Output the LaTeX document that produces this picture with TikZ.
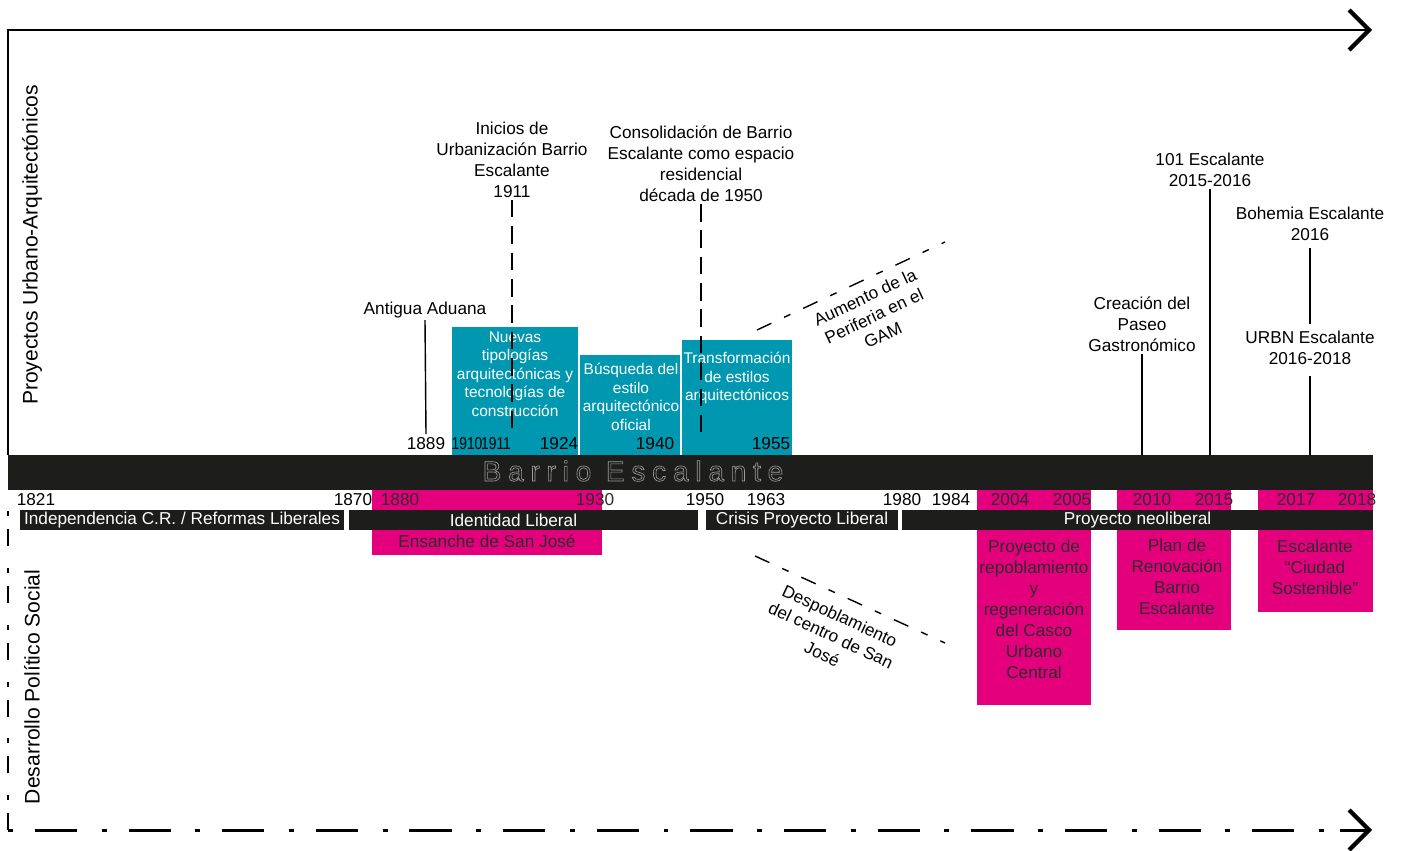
\documentclass[tikz,border=0pt]{standalone}
\usepackage{fontspec}
\setmainfont{Liberation Sans}
\usepackage{tikz}
\usetikzlibrary{positioning,arrows.meta}

\definecolor{tealbx}{RGB}{0,152,176}
\definecolor{magbx}{RGB}{228,0,124}
\definecolor{barblk}{RGB}{29,29,27}
\definecolor{darktxt}{RGB}{45,45,45}

\newcommand{\evfont}{\fontsize{9.8}{11.95}\selectfont}
\newcommand{\bxfont}{\fontsize{8.8}{10.5}\selectfont}
\newcommand{\axfont}{\fontsize{12}{14}\selectfont}
\newcommand{\narrow}[1]{\scalebox{0.8}[1]{#1}}
\newcommand{\outlined}[1]{\special{pdf:literal direct 1 Tr 0.35 w}#1\special{pdf:literal direct 0 Tr}}

\tikzset{
  ev/.style={align=center, inner sep=1pt, font=\evfont},
  yr/.style={inner sep=0pt, font=\evfont},
  yrpk/.style={yr, text=darktxt},
  bxtxt/.style={align=center, inner sep=0pt, font=\bxfont, text=white},
  pktxt/.style={align=center, inner sep=0pt, font=\evfont, text=darktxt},
  band/.style={fill=barblk, text=white, inner sep=0pt, minimum height=0.4cm, font=\evfont},
  vline/.style={line width=0.8pt},
  dline/.style={line width=0.8pt, dash pattern=on 10pt off 5pt},
  diag/.style={line width=0.8pt, dash pattern=on 9pt off 8pt on 4pt off 8pt},
  axis/.style={line width=1.7pt, line cap=butt},
  chev/.style={-{Straight Barb[length=0.4cm, width=0.8cm, line width=2.4pt]}},
}

\begin{document}
\begin{tikzpicture}[x=0.02cm, y=-0.02cm]
\useasboundingbox (0,0) rectangle (1403,851);

% axes
\coordinate (topL) at (8,455);
\coordinate (topC) at (8,30);
\coordinate (topR) at (1372,30);
\coordinate (botT) at (8,497);
\coordinate (botC) at (8,830);
\coordinate (botR) at (1372,830);
\draw[axis] (topL) -- (topC) -- (1350,30);
\draw[axis, chev] (1340,30) -- (topR);
\draw[axis, dash pattern=on 9.6pt off 7.4pt on 2.8pt off 12.5pt] (botC) -- (botT);
\draw[axis, dash pattern=on 2.8pt off 12.5pt on 24pt off 14pt] (botC) -- (1350,830);
\draw[axis, chev] (1340,830) -- (botR);

\node[font=\axfont, rotate=90] (proj) at (32,245) {Proyectos Urbano-Arquitectónicos};
\node[font=\axfont, rotate=90] (desa) at (32,687) {Desarrollo Político Social};

% bloques de color
\fill[magbx] (372,490) rectangle (602,555);
\fill[magbx] (977,490) rectangle (1091,705);
\fill[magbx] (1117,490) rectangle (1231,630);
\fill[magbx] (1258,490) rectangle (1373,612);
\fill[tealbx] (452,327) rectangle (578,455);
\fill[tealbx] (580,355) rectangle (680,455);
\fill[tealbx] (682,340) rectangle (792,455);
\fill[barblk] (8,455) rectangle (1373,490);

\node[inner sep=0pt, text=gray!75, font=\fontsize{16}{16}\selectfont\addfontfeature{LetterSpace=24}] (barrio) at (633,471)
  {\outlined{Barrio Escalante}};

\node[bxtxt] (nuevas) at (515,374) {Nuevas\\tipologías\\arquitectónicas y\\tecnologías de\\construcción};
\node[bxtxt] (busq) at (631,397) {Búsqueda del\\estilo\\arquitectónico\\oficial};
\node[bxtxt] (transf) at (737,378) {Transformación\\de estilos\\arquitectónicos};

\node[yr] (y1889) at (426,444) {1889};
\node[yr] (y1910) at (467,444) {\narrow{1910}};
\node[yr] (y1911) at (496,444) {\narrow{1911}};
\node[yr] (y1924) at (559,444) {1924};
\node[yr] (y1940) at (655,444) {1940};
\node[yr] (y1955) at (771,444) {1955};

% eventos arriba
\node[ev] (aduana) at (425,310) {Antigua Aduana};
\node[ev] (inicio) at (512,160) {Inicios de\\Urbanización Barrio\\Escalante\\1911};
\node[ev] (consol) at (701,164) {Consolidación de Barrio\\Escalante como espacio\\residencial\\década de 1950};
\node[ev] (paseo) at (1142,324) {Creación del\\Paseo\\Gastronómico};
\node[ev] (e101) at (1210,170) {101 Escalante\\2015-2016};
\node[ev] (urbn) at (1310,348) {URBN Escalante\\2016-2018};
\node[ev, above=1.72cm of urbn] (bohemia) {Bohemia Escalante\\2016};

\coordinate (c1911) at (512,436);
\coordinate (c1950) at (701,436);
\coordinate (cpaseo) at (1142,455);
\coordinate (c101) at (1210,455);
\coordinate (curbn) at (1310,455);
\draw[vline] (aduana.south) -- ([yshift=2pt]y1889.north);
\draw[dline] (inicio.south) -- (c1911);
\draw[dline] (consol.south) -- (c1950);
\draw[vline] (paseo.south) -- (cpaseo);
\draw[vline] (e101.south) -- (c101);
\draw[vline] ([yshift=-3pt]bohemia.south) -- ([yshift=3pt]urbn.north);
\draw[vline] ([yshift=-5pt]urbn.south) -- (curbn);

\coordinate (aumA) at (757,330);
\coordinate (aumB) at (945,242);
\draw[diag] (aumA) -- (aumB);
\node[ev, rotate=25] (aumento) at (874,316) {Aumento de la\\Periferia en el\\GAM};

\coordinate (despA) at (755,556);
\coordinate (despB) at (945,643);
\draw[diag] (despA) -- (despB);
\node[ev, rotate=-25] (despob) at (831,635) {Despoblamiento\\del centro de San\\José};

% fila de años
\node[yr] (y1821) at (36,500) {1821};
\node[yr] (y1870) at (353,500) {1870};
\node[yrpk] (y1880) at (400,500) {1880};
\node[yrpk] (y1930) at (595,500) {1930};
\node[yr] (y1950) at (705,500) {1950};
\node[yr] (y1963) at (766,500) {1963};
\node[yr] (y1980) at (902,500) {1980};
\node[yr] (y1984) at (951,500) {1984};
\node[yrpk] (y2004) at (1010,500) {2004};
\node[yrpk] (y2005) at (1072,500) {2005};
\node[yrpk] (y2010) at (1152,500) {2010};
\node[yrpk] (y2015) at (1214,500) {2015};
\node[yrpk] (y2017) at (1296,500) {2017};
\node[yrpk] (y2018) at (1357,500) {2018};

% periodos
\node[band, minimum width=6.48cm] (indep) at (182,520) {Independencia C.R. / Reformas Liberales};
\node[band, minimum width=6.98cm] (ident) at (523.5,520) {\hspace{-0.4cm}Identidad Liberal};
\node[band, minimum width=3.84cm] (crisis) at (802,520) {Crisis Proyecto Liberal};
\node[band, minimum width=9.42cm] (neolib) at (1137.5,520) {Proyecto neoliberal};

\node[pktxt] (ensanche) at (487,541) {Ensanche de San José};
\node[pktxt] (repobl) at (1034,609) {Proyecto de\\repoblamiento\\y\\regeneración\\del Casco\\Urbano\\Central};
\node[pktxt] (plan) at (1177,577) {Plan de\\Renovación\\Barrio\\Escalante};
\node[pktxt] (ciudad) at (1315,567) {Escalante\\“Ciudad\\Sostenible”};
\end{tikzpicture}
\end{document}
